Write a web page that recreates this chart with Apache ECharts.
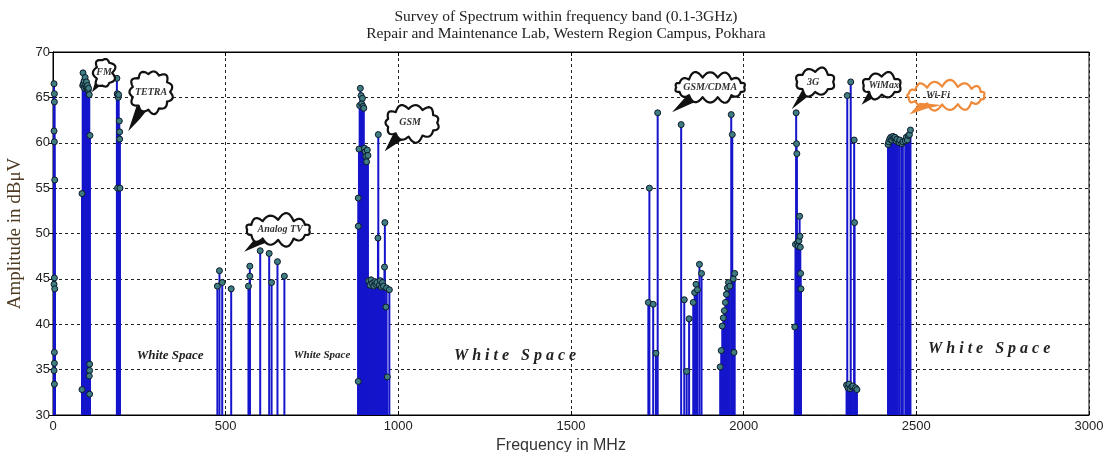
<!DOCTYPE html>
<html>
<head>
<meta charset="utf-8">
<script src="https://cdn.jsdelivr.net/npm/echarts@6/dist/echarts.min.js"></script>
<style>
  html, body { margin: 0; padding: 0; background: #fff; }
  #chart { width: 1103px; height: 452px; }
</style>
</head>
<body>
<div id="chart"></div>
<script>
// Measured peaks per band: [frequency in MHz, amplitude in dBµV]
const lowBand = [[3, 66.5], [4, 65.4], [4, 64.5], [3, 61.3], [4, 60.1], [5, 55.9], [4, 45.1], [3, 44.4], [5, 43.9], [4, 36.9], [4, 35.7], [3, 34.9], [4, 33.4]];
const fmBand = [[84, 54.4], [84, 32.8], [86, 66.3], [87, 67.7], [88, 66.5], [90, 66.8], [91, 66.0], [93, 67.2], [94, 66.4], [96, 66.1], [97, 66.7], [99, 65.9], [100, 66.3], [102, 65.8], [103, 66.0], [105, 65.3], [107, 60.8], [106, 35.6], [106, 34.9], [105, 34.3], [106, 32.3]];
const tetraBand = [[185, 67.1], [186, 65.4], [187, 55.0], [188, 65.2], [189, 65.0], [190, 65.3], [192, 62.4], [193, 61.2], [193, 60.4], [194, 55.0]];
const tvBand = [[476, 44.2], [482, 45.9], [490, 44.6], [516, 43.9], [566, 44.2], [570, 46.4], [570, 45.3], [600, 48.1], [626, 47.8], [633, 44.6], [650, 46.9], [670, 45.3]];
const gsm900Band = [[884, 53.9], [884, 50.8], [884, 33.7], [886, 59.3], [888, 64.1], [890, 66.0], [892, 65.2], [894, 64.3], [896, 64.9], [898, 64.0], [900, 63.8], [902, 59.4], [904, 59.0], [906, 58.5], [908, 57.9], [910, 59.2], [912, 58.6], [914, 44.8], [918, 44.3], [921, 44.9], [925, 44.5], [929, 44.2], [932, 44.7], [935, 44.4], [938, 44.6], [941, 49.5], [942, 60.9], [945, 44.3], [948, 44.8], [951, 44.1], [954, 44.6], [957, 44.2], [960, 46.3], [961, 51.2], [964, 41.9], [966, 44.0], [968, 34.2], [974, 43.8]];
const gsm1800Band = [[1724, 42.4], [1727, 55.0], [1738, 42.2], [1746, 36.8], [1751, 63.3], [1819, 62.0], [1828, 42.7], [1835, 34.8], [1842, 40.6], [1854, 42.4], [1858, 43.5], [1862, 44.4], [1866, 43.8], [1872, 46.6], [1878, 45.6], [1932, 35.3], [1935, 37.1], [1938, 39.8], [1941, 40.7], [1944, 41.5], [1947, 42.4], [1950, 43.3], [1953, 44.0], [1956, 44.6], [1960, 44.2], [1964, 63.1], [1967, 60.9], [1970, 45.0], [1972, 36.9], [1974, 45.6]];
const band3G = [[2148, 39.7], [2150, 48.8], [2152, 63.3], [2153, 59.9], [2154, 58.8], [2156, 49.0], [2158, 48.6], [2160, 49.2], [2162, 51.9], [2163, 49.7], [2164, 48.5], [2165, 45.6], [2166, 43.9]];
const wimaxBand = [[2298, 33.3], [2300, 65.2], [2302, 33.0], [2305, 33.4], [2308, 32.9], [2310, 66.7], [2313, 33.1], [2316, 33.2], [2320, 60.3], [2321, 51.2], [2324, 33.0], [2328, 32.8]];
const wifiBand = [[2418, 59.8], [2420, 60.1], [2423, 60.4], [2426, 60.6], [2429, 60.3], [2432, 60.7], [2435, 60.5], [2438, 60.6], [2441, 60.2], [2444, 60.4], [2450, 60.0], [2452, 60.3], [2458, 59.9], [2461, 60.1], [2468, 60.2], [2471, 60.6], [2474, 60.3], [2477, 60.8], [2480, 60.9], [2483, 61.4]];

// Axis ticks
const freqTicks = [0, 500, 1000, 1500, 2000, 2500, 3000];
const ampTicks = [30, 35, 40, 45, 50, 55, 60, 65, 70];

const allPeaks = [].concat(lowBand, fmBand, tetraBand, tvBand, gsm900Band, gsm1800Band, band3G, wimaxBand, wifiBand);

const AMP_MIN = ampTicks[0];
const AMP_MAX = ampTicks[ampTicks.length - 1];
const FREQ_MIN = freqTicks[0];
const FREQ_MAX = freqTicks[freqTicks.length - 1];

const chart = echarts.init(document.getElementById('chart'), null, { renderer: 'canvas' });

const gridLine = { show: true, lineStyle: { color: '#222', type: [3, 3], width: 1 } };
const tickFont = { fontFamily: 'Liberation Sans, Arial, sans-serif', fontSize: 13, color: '#222' };
const plainNumber = v => String(v);

chart.setOption({
  animation: false,
  backgroundColor: '#fff',
  title: {
    text: 'Survey of Spectrum within frequency band (0.1-3GHz)\nRepair and Maintenance Lab, Western Region Campus, Pokhara',
    left: 561,
    top: 3,
    textAlign: 'center',
    textStyle: { fontFamily: 'Liberation Serif, Times New Roman, serif', fontSize: 15.5, fontWeight: 'normal', color: '#222', lineHeight: 17 }
  },
  grid: {
    left: 53, right: 14, top: 52, bottom: 37,
    outerBoundsMode: 'none', containLabel: false,
    show: true, borderColor: '#000', borderWidth: 1, backgroundColor: 'transparent'
  },
  xAxis: [{
    type: 'value', min: FREQ_MIN, max: FREQ_MAX, interval: freqTicks[1] - freqTicks[0],
    name: 'Frequency in MHz', nameLocation: 'middle', nameGap: 20,
    nameTextStyle: { fontFamily: 'Liberation Sans, Arial, sans-serif', fontSize: 16, color: '#333', padding: [0, 20, 0, 0] },
    axisLine: { show: true, lineStyle: { color: '#000', width: 1 } },
    axisTick: { show: true, inside: true, length: 4, lineStyle: { color: '#000' } },
    axisLabel: Object.assign({ margin: 5, formatter: plainNumber }, tickFont),
    splitLine: gridLine
  }, {
    type: 'value', position: 'top', min: FREQ_MIN, max: FREQ_MAX, interval: freqTicks[1] - freqTicks[0],
    axisLine: { show: true, lineStyle: { color: '#000' } },
    axisTick: { show: true, inside: true, length: 4, lineStyle: { color: '#000' } },
    axisLabel: { show: false }, splitLine: { show: false }
  }],
  yAxis: [{
    type: 'value', min: AMP_MIN, max: AMP_MAX, interval: ampTicks[1] - ampTicks[0],
    name: 'Amplitude in dB\u03BCV', nameLocation: 'middle', nameGap: 25, nameRotate: 90,
    nameTextStyle: { fontFamily: 'Liberation Serif, Times New Roman, serif', fontSize: 19, color: '#4e3a22' },
    axisLine: { show: true, lineStyle: { color: '#000', width: 1 } },
    axisTick: { show: true, inside: true, length: 4, lineStyle: { color: '#000' } },
    axisLabel: Object.assign({ margin: 3, formatter: plainNumber }, tickFont),
    splitLine: gridLine
  }, {
    type: 'value', position: 'right', min: AMP_MIN, max: AMP_MAX, interval: ampTicks[1] - ampTicks[0],
    axisLine: { show: true, lineStyle: { color: '#000' } },
    axisTick: { show: true, inside: true, length: 4, lineStyle: { color: '#000' } },
    axisLabel: { show: false }, splitLine: { show: false }
  }],
  series: [{
    // vertical stems from the floor of the plot up to each measured peak
    type: 'custom',
    name: 'stems',
    data: allPeaks,
    encode: { x: 0, y: 1 },
    clip: true,
    silent: true,
    renderItem: function (params, api) {
      const top = api.coord([api.value(0), api.value(1)]);
      const base = api.coord([api.value(0), AMP_MIN]);
      return {
        type: 'line',
        shape: { x1: top[0], y1: base[1], x2: top[0], y2: top[1] },
        style: { stroke: '#1515cc', lineWidth: 2 }
      };
    },
    z: 2
  }, {
    // peak markers
    type: 'scatter',
    name: 'peaks',
    data: allPeaks,
    symbol: 'circle',
    symbolSize: 6,
    silent: true,
    itemStyle: { color: '#3f7d80', borderColor: '#0c1a2c', borderWidth: 1, opacity: 1 },
    z: 3
  }]
});

// Band call-outs: cloud centre and tail tip in data coordinates, cloud radii and label shift in px
const callouts = [
  { text: 'FM', center: [148, 67.7], tip: [117, 65.8], rx: 8, ry: 13, color: '#111', fill: '#fff', size: 10, dx: 0 },
  { text: 'TETRA', center: [284, 65.6], tip: [223, 61.6], rx: 19, ry: 18, color: '#111', fill: '#fff', size: 10, dx: 0 },
  { text: 'Analog TV', center: [652, 50.4], tip: [561, 48.2], rx: 31, ry: 10, color: '#111', fill: '#fff', size: 10, dx: 2 },
  { text: 'GSM', center: [1040, 62.2], tip: [966, 59.3], rx: 25, ry: 14, color: '#111', fill: '#fff', size: 10, dx: -2 },
  { text: 'GSM/CDMA', center: [1903, 66.1], tip: [1801, 63.6], rx: 34, ry: 10, color: '#111', fill: '#fff', size: 10, dx: 0 },
  { text: '3G', center: [2207, 66.7], tip: [2146, 64.0], rx: 18, ry: 10, color: '#111', fill: '#fff', size: 10, dx: -2 },
  { text: 'WiMax', center: [2400, 66.3], tip: [2347, 64.4], rx: 18, ry: 9, color: '#111', fill: '#fff', size: 10, dx: 2 },
  { text: 'Wi-Fi', center: [2586, 65.2], tip: [2487, 63.3], rx: 38, ry: 9, color: '#ee8a3a', fill: 'transparent', size: 10, dx: -8 }
];

// "White Space" notes between occupied bands
const gapNotes = [
  { text: 'White Space', at: [339, 36.5], size: 13 },
  { text: 'White Space', at: [779, 36.6], size: 11 },
  { text: 'W h i t e   S p a c e', at: [1338, 36.5], size: 16 },
  { text: 'W h i t e   S p a c e', at: [2711, 37.3], size: 16 }
];

function cloudOutline(cx, cy, rx, ry) {
  const perim = Math.PI * (3 * (rx + ry) - Math.sqrt((3 * rx + ry) * (rx + 3 * ry)));
  const n = Math.max(7, Math.round(perim / 11));
  const bumpScale = [1, 0.75, 1.15, 0.85, 1.05, 0.8, 1.1];
  const pts = [];
  for (let i = 0; i < n; i++) {
    const a0 = 2 * Math.PI * i / n, a1 = 2 * Math.PI * (i + 1) / n, am = (a0 + a1) / 2;
    const p0 = [cx + rx * Math.cos(a0), cy + ry * Math.sin(a0)];
    const p1 = [cx + rx * Math.cos(a1), cy + ry * Math.sin(a1)];
    const len = Math.hypot(p1[0] - p0[0], p1[1] - p0[1]);
    let nx = Math.cos(am) / rx, ny = Math.sin(am) / ry;
    const nl = Math.hypot(nx, ny);
    nx /= nl; ny /= nl;
    const b = len * 0.42 * bumpScale[i % bumpScale.length];
    const c = [(p0[0] + p1[0]) / 2 + 2 * b * nx, (p0[1] + p1[1]) / 2 + 2 * b * ny];
    for (let s = 0; s < 8; s++) {
      const t = s / 8;
      pts.push([
        (1 - t) * (1 - t) * p0[0] + 2 * t * (1 - t) * c[0] + t * t * p1[0],
        (1 - t) * (1 - t) * p0[1] + 2 * t * (1 - t) * c[1] + t * t * p1[1]
      ]);
    }
  }
  return pts;
}

// Speech-bubble tail leaving the cloud rim toward the tip
function tailShape(cx, cy, rx, ry, tip) {
  const ang = Math.atan2((tip[1] - cy) / ry, (tip[0] - cx) / rx);
  const p = a => [cx + 1.12 * rx * Math.cos(a), cy + 1.12 * ry * Math.sin(a)];
  const a = p(ang - 0.22), b = p(ang + 0.22);
  const mid = [(a[0] + tip[0]) / 2 + 1.5, (a[1] + tip[1]) / 2 - 1];
  return [a, mid, tip, b];
}

function drawNotes() {
  const toPx = v => chart.convertToPixel({ xAxisIndex: 0, yAxisIndex: 0 }, v);
  const elements = [];
  callouts.forEach(c => {
    const ctr = toPx(c.center);
    const tip = toPx(c.tip);
    elements.push({
      type: 'polygon', z: 100, silent: true,
      shape: { points: tailShape(ctr[0], ctr[1], c.rx, c.ry, tip) },
      style: { fill: c.color, stroke: c.color, lineWidth: 1.5 }
    });
    elements.push({
      type: 'polygon', z: 101, silent: true,
      shape: { points: cloudOutline(ctr[0], ctr[1], c.rx, c.ry) },
      style: { fill: c.fill, stroke: c.color, lineWidth: 2.2, lineJoin: 'round' }
    });
    elements.push({
      type: 'text', z: 102, silent: true,
      x: ctr[0] + c.dx, y: ctr[1],
      style: {
        text: c.text, fill: '#333', align: 'center', verticalAlign: 'middle',
        font: 'italic bold ' + c.size + 'px "Liberation Serif", "Times New Roman", serif'
      }
    });
  });
  gapNotes.forEach(g => {
    const p = toPx(g.at);
    elements.push({
      type: 'text', z: 102, silent: true,
      x: p[0], y: p[1],
      style: {
        text: g.text, fill: '#222', align: 'center', verticalAlign: 'middle',
        font: 'italic bold ' + g.size + 'px "Liberation Serif", "Times New Roman", serif'
      }
    });
  });
  chart.setOption({ graphic: { elements: elements } });
}

drawNotes();
</script>
</body>
</html>
